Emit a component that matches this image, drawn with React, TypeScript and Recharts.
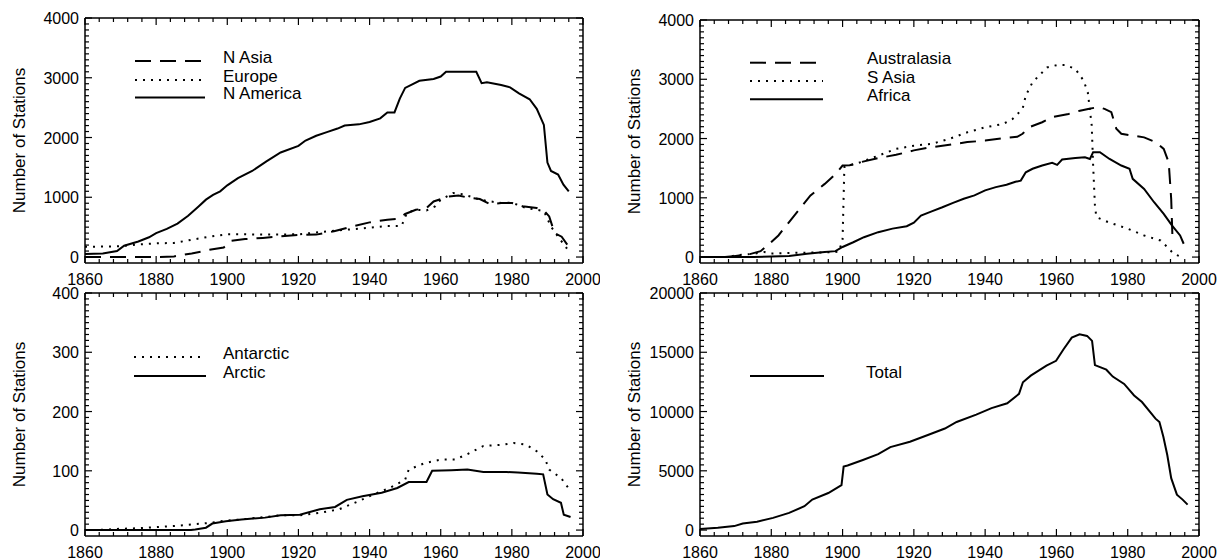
import React from 'react';
import { LineChart, Line, XAxis, YAxis, Legend } from 'recharts';

type Pt = [number, number];

const FONT = '"Liberation Sans", Arial, Helvetica, sans-serif';
const DASHED = '16 9';
const DOTTED = '2 6';

const yearTicks = [1860, 1880, 1900, 1920, 1940, 1960, 1980, 2000];
const regionTicks = [0, 1000, 2000, 3000, 4000];
const polarTicks = [0, 100, 200, 300, 400];
const totalTicks = [0, 5000, 10000, 15000, 20000];

// top left panel
const nAsia: Pt[] = [
  [1860, 0], [1870, 0], [1880, 0], [1885, 10], [1890, 60], [1895, 120], [1899, 160], [1901, 270],
  [1905, 300], [1910, 320], [1915, 345], [1920, 370], [1925, 375], [1930, 430], [1935, 510],
  [1940, 580], [1945, 625], [1948, 640], [1950, 720], [1953, 790], [1956, 820], [1958, 930],
  [1960, 970], [1962, 1010], [1965, 1030], [1968, 990], [1971, 970], [1974, 880], [1977, 905],
  [1980, 905], [1983, 850], [1987, 820], [1989, 780], [1990.5, 680], [1992, 400], [1994, 340], [1996, 170],
];
const europe: Pt[] = [
  [1860, 170], [1870, 180], [1875, 210], [1880, 230], [1885, 235], [1890, 290], [1895, 340],
  [1900, 380], [1905, 380], [1910, 375], [1920, 380], [1930, 440], [1940, 490], [1945, 520],
  [1949, 520], [1950.5, 740], [1953, 790], [1956, 780], [1958.5, 850], [1960, 960], [1963.5, 1070],
  [1966, 1050], [1968.5, 1010], [1971, 960], [1974, 930], [1977, 905], [1980, 910], [1984, 820],
  [1989, 770], [1991, 510], [1993, 340], [1996, 100],
];
const nAmerica: Pt[] = [
  [1860, 50], [1865, 60], [1869, 100], [1871, 190], [1875, 260], [1878, 330], [1880, 400],
  [1883, 470], [1886, 560], [1889, 690], [1892, 850], [1894, 960], [1896, 1040], [1898, 1100],
  [1900, 1200], [1903, 1320], [1907, 1440], [1911, 1600], [1915, 1750], [1920, 1860], [1922, 1950],
  [1925, 2030], [1928, 2090], [1931, 2150], [1933, 2200], [1937, 2220], [1940, 2260], [1943, 2320],
  [1945, 2420], [1947, 2420], [1948.5, 2650], [1950, 2830], [1952, 2890], [1954, 2950], [1958, 2980],
  [1960, 3020], [1961.5, 3100], [1970, 3100], [1971.5, 2910], [1973, 2925], [1977, 2880],
  [1979.5, 2840], [1982, 2740], [1985, 2640], [1987, 2480], [1989, 2210], [1990, 1580], [1991, 1440],
  [1993, 1380], [1994.5, 1210], [1996, 1100],
];

// top right panel
const australasia: Pt[] = [
  [1860, 0], [1867, 0], [1870, 20], [1874, 50], [1877, 100], [1879, 200], [1882, 365], [1885, 590],
  [1888, 815], [1891, 1040], [1895, 1235], [1898, 1400], [1900, 1545], [1902, 1550], [1905, 1600],
  [1910, 1670], [1915, 1725], [1920, 1800], [1925, 1855], [1930, 1895], [1935, 1940], [1940, 1965],
  [1945, 2005], [1949, 2030], [1950.5, 2080], [1952.3, 2190], [1956, 2275], [1958.8, 2360],
  [1963.4, 2415], [1966.6, 2470], [1968.9, 2500], [1971.7, 2530], [1973.5, 2500], [1975.4, 2445],
  [1976.8, 2165], [1978.2, 2080], [1981.4, 2050], [1984.6, 2020], [1987.8, 1940], [1990.1, 1825],
  [1991.5, 1600], [1992.2, 980], [1992.6, 250],
];
const sAsia: Pt[] = [
  [1860, 0], [1868, 0], [1870, 30], [1875, 55], [1878, 85], [1880, 60], [1885, 70], [1890, 75],
  [1895, 80], [1899, 90], [1900, 300], [1900.5, 1520], [1905, 1600], [1910, 1710], [1915, 1825],
  [1920, 1880], [1925, 1910], [1930, 1995], [1935, 2105], [1940, 2190], [1945, 2245], [1947.7, 2330],
  [1950.5, 2500], [1951.4, 2725], [1953.3, 2950], [1955.6, 3090], [1957.4, 3200], [1960.2, 3240],
  [1962.5, 3240], [1965.3, 3175], [1967.6, 2980], [1968.8, 2780], [1969.9, 2220], [1970.3, 1545],
  [1970.8, 870], [1971.2, 675], [1974.5, 590], [1980, 480], [1984.6, 365], [1989.2, 280],
  [1991.1, 170], [1992.9, 55], [1995.2, 0],
];
const africa: Pt[] = [
  [1860, 0], [1875, 0], [1880, 10], [1885, 20], [1890, 55], [1895, 85], [1898, 100], [1900, 170],
  [1903, 250], [1906, 335], [1910, 420], [1914, 480], [1918, 520], [1920, 580], [1922, 700],
  [1925, 770], [1928, 840], [1931, 915], [1934, 985], [1937, 1040], [1940, 1125], [1943, 1180],
  [1946, 1220], [1948.5, 1270], [1950, 1290], [1951.4, 1430], [1953.3, 1490], [1956, 1545],
  [1958.8, 1590], [1960.2, 1555], [1961.6, 1645], [1965.3, 1670], [1968, 1685], [1969.4, 1655],
  [1970.3, 1770], [1972.2, 1770], [1974.9, 1655], [1978.2, 1545], [1980.5, 1490], [1981.4, 1320],
  [1984.6, 1150], [1987.4, 925], [1990.1, 730], [1992.4, 535], [1994.7, 365], [1995.7, 225],
];

// bottom left panel
const antarctic: Pt[] = [
  [1860, 0], [1863.5, 0], [1869, 2], [1874.5, 3], [1880, 5], [1885.4, 7], [1891, 10], [1895, 12],
  [1899.6, 16], [1904, 18], [1910.6, 22], [1915, 25], [1920.4, 25], [1926, 29], [1931.4, 35],
  [1937, 49], [1941, 60], [1945.6, 71], [1950, 85], [1951, 102], [1955.5, 113], [1960, 119],
  [1964, 119], [1967.5, 128], [1972, 142], [1977.5, 144], [1980.6, 147], [1984, 144], [1987, 133],
  [1989.4, 119], [1990.5, 102], [1993.8, 88], [1996.5, 66],
];
const arctic: Pt[] = [
  [1860, 0], [1880, 0], [1889.8, 0], [1891, 1], [1894, 4], [1895.8, 11], [1899.6, 15], [1904, 18],
  [1910.6, 21], [1915, 25], [1920.4, 26], [1926, 35], [1930.3, 39], [1933.6, 51], [1938, 57],
  [1943.4, 63], [1947.8, 71], [1951, 81], [1956, 81], [1957.6, 100], [1963, 101], [1967.5, 102],
  [1972, 98], [1978.5, 98], [1981.7, 97], [1987, 95], [1988.8, 94], [1990, 60], [1991.6, 52],
  [1993.8, 46], [1994.6, 26], [1996.5, 22],
];

// bottom right panel
const total: Pt[] = [
  [1860, 100], [1865, 200], [1869.6, 335], [1872, 560], [1876, 700], [1880.5, 1030], [1885, 1450],
  [1889.3, 2010], [1891.5, 2570], [1896, 3125], [1899.7, 3800], [1900.3, 5360], [1901.4, 5450],
  [1905.7, 5915], [1910, 6400], [1913.4, 7000], [1918.9, 7450], [1924.3, 8060], [1928.7, 8565],
  [1932, 9120], [1937.5, 9740], [1941.8, 10290], [1946.2, 10700], [1949.5, 11490], [1950.6, 12470],
  [1952.8, 13030], [1957.2, 13870], [1959.9, 14280], [1962, 15260], [1964.3, 16240], [1966.5, 16520],
  [1968.6, 16380], [1970, 15960], [1970.8, 13920], [1974, 13530], [1975.8, 12950], [1979, 12330],
  [1981.8, 11360], [1984, 10800], [1987.8, 9400], [1988.9, 9120], [1990, 7870], [1991.1, 6330],
  [1992.2, 4380], [1993.8, 2990], [1995.4, 2570], [1996.8, 2150],
];

interface Series { name: string; points: Pt[]; dash?: string }

interface PanelProps {
  left: number; top: number; width: number; height: number;
  yLeft: number; yRight: number; xTop: number; xBottom: number;
  yMax: number; yMin: number; yMajor: number[]; labelX: number;
  series: Series[];
  legend: { x0: number; x1: number; tx: number; ys: number[] };
}

const steps = (from: number, to: number, step: number) => {
  const out: number[] = [];
  for (let v = from; v <= to + 1e-9; v += step) out.push(v);
  return out;
};
const toRows = (pts: Pt[]) => pts.map(([year, n]) => ({ year, n }));

const xTick = (side: 'top' | 'bottom') => (p: any) => {
  const major = yearTicks.includes(p.payload.value);
  const len = major ? 7 : 4;
  const dir = side === 'bottom' ? -1 : 1;
  return (
    <g>
      <line x1={p.x} y1={p.y} x2={p.x} y2={p.y + dir * len} stroke="#000" strokeWidth={1.2} />
      {side === 'bottom' && major && (
        <text x={p.x} y={p.y + 22} textAnchor="middle" fontSize={16} fontFamily={FONT} fill="#000">
          {p.payload.value}
        </text>
      )}
    </g>
  );
};

const yTick = (side: 'left' | 'right', majors: number[]) => (p: any) => {
  const major = majors.includes(p.payload.value);
  const len = major ? 7 : 4;
  const dir = side === 'left' ? 1 : -1;
  return (
    <g>
      <line x1={p.x} y1={p.y} x2={p.x + dir * len} y2={p.y} stroke="#000" strokeWidth={1.2} />
      {side === 'left' && major && (
        <text x={p.x - 6} y={p.y + 6} textAnchor="end" fontSize={16} fontFamily={FONT} fill="#000">
          {p.payload.value}
        </text>
      )}
    </g>
  );
};

function Panel(props: PanelProps) {
  const { left, top, width, height, yLeft, yRight, xTop, xBottom, yMax, yMin, yMajor, labelX, series, legend } = props;
  const xMinor = steps(1860, 2000, 4);
  const yMinor = steps(0, yMax, yMajor[1] / 10);
  const axisLine = { stroke: '#000', strokeWidth: 1.5 };

  const legendContent = () => (
    <svg width={width} height={height} style={{ display: 'block' }}>
      {series.map((s, i) => (
        <g key={s.name}>
          <line x1={legend.x0} x2={legend.x1} y1={legend.ys[i]} y2={legend.ys[i]} stroke="#000" strokeWidth={2} strokeDasharray={s.dash} />
          <text x={legend.tx} y={legend.ys[i] + 1.5} fontSize={17} fontFamily={FONT} fill="#000">{s.name}</text>
        </g>
      ))}
    </svg>
  );

  const yLabel = (p: any) => {
    const vb = p.viewBox;
    const cy = vb.y + vb.height / 2;
    return (
      <text x={labelX} y={cy} transform={`rotate(-90 ${labelX} ${cy})`} textAnchor="middle" dominantBaseline="central" fontSize={17} fontFamily={FONT} fill="#000">
        Number of Stations
      </text>
    );
  };

  return (
    <div style={{ position: 'absolute', left, top, width, height }}>
      <LineChart width={width} height={height} margin={{ top: 0, right: 0, bottom: 0, left: 0 }}>
        <XAxis xAxisId="b" dataKey="year" type="number" domain={[1860, 2000]} ticks={xMinor} interval={0}
          height={xBottom} tickSize={0} tickMargin={0} tickLine={false} axisLine={axisLine} tick={xTick('bottom')} allowDataOverflow />
        <XAxis xAxisId="t" orientation="top" dataKey="year" type="number" domain={[1860, 2000]} ticks={xMinor} interval={0}
          height={xTop} tickSize={0} tickMargin={0} tickLine={false} axisLine={axisLine} tick={xTick('top')} allowDataOverflow />
        <YAxis yAxisId="l" type="number" domain={[yMin, yMax]} ticks={yMinor} interval={0} width={yLeft}
          tickSize={0} tickMargin={0} tickLine={false} axisLine={axisLine} tick={yTick('left', yMajor)} label={yLabel} allowDataOverflow />
        <YAxis yAxisId="r" orientation="right" type="number" domain={[yMin, yMax]} ticks={yMinor} interval={0} width={yRight}
          tickSize={0} tickMargin={0} tickLine={false} axisLine={axisLine} tick={yTick('right', yMajor)} allowDataOverflow />
        <Legend layout="vertical" align="center" verticalAlign="middle" content={legendContent}
          wrapperStyle={{ position: 'absolute', left: 0, top: 0, width, height, pointerEvents: 'none' }} />
        {series.map((s) => (
          <Line key={s.name} name={s.name} data={toRows(s.points)} dataKey="n" xAxisId="b" yAxisId="l" type="linear"
            stroke="#000" strokeWidth={2} strokeDasharray={s.dash} dot={false} activeDot={false} isAnimationActive={false} />
        ))}
      </LineChart>
    </div>
  );
}

export default function App() {
  return (
    <div style={{ position: 'absolute', left: 0, top: 0, width: 1221, height: 560, background: '#fff' }}>
      <Panel left={0} top={0} width={600} height={290} yLeft={85} yRight={17} xTop={18} xBottom={27}
        yMin={-100} yMax={4000} yMajor={regionTicks} labelX={19}
        series={[{ name: 'N Asia', points: nAsia, dash: DASHED }, { name: 'Europe', points: europe, dash: DOTTED }, { name: 'N America', points: nAmerica }]}
        legend={{ x0: 135, x1: 205, tx: 223, ys: [61, 80, 97.5] }} />
      <Panel left={610} top={0} width={611} height={290} yLeft={90} yRight={22} xTop={20} xBottom={27}
        yMin={-100} yMax={4000} yMajor={regionTicks} labelX={24}
        series={[{ name: 'Australasia', points: australasia, dash: DASHED }, { name: 'S Asia', points: sAsia, dash: DOTTED }, { name: 'Africa', points: africa }]}
        legend={{ x0: 140, x1: 213, tx: 257, ys: [62.7, 81, 99.3] }} />
      <Panel left={0} top={278} width={600} height={282} yLeft={85} yRight={17} xTop={15} xBottom={24}
        yMin={-10} yMax={400} yMajor={polarTicks} labelX={19}
        series={[{ name: 'Antarctic', points: antarctic, dash: DOTTED }, { name: 'Arctic', points: arctic }]}
        legend={{ x0: 134, x1: 206, tx: 223, ys: [79, 98] }} />
      <Panel left={610} top={278} width={611} height={282} yLeft={90} yRight={22} xTop={15} xBottom={24}
        yMin={-500} yMax={20000} yMajor={totalTicks} labelX={24}
        series={[{ name: 'Total', points: total }]}
        legend={{ x0: 140, x1: 214, tx: 256, ys: [98] }} />
    </div>
  );
}
